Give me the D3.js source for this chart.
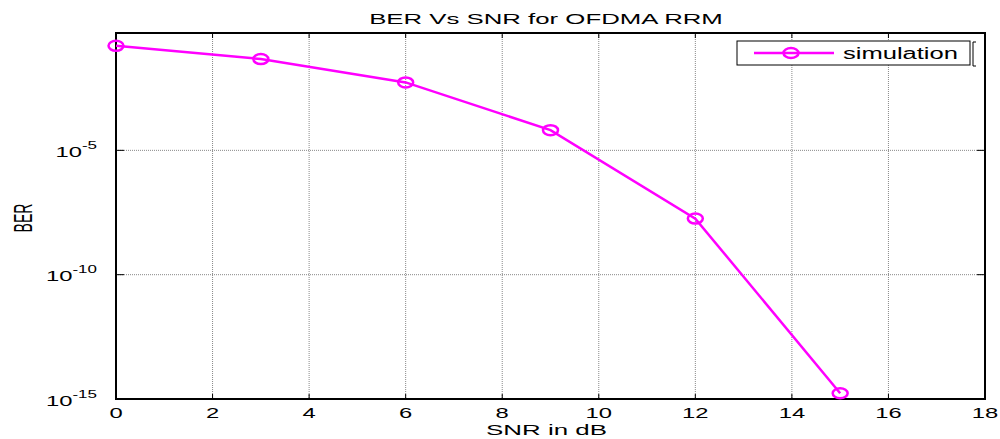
<!DOCTYPE html>
<html><head><meta charset="utf-8">
<script src="https://cdn.jsdelivr.net/npm/d3@7"></script>
<style>body{margin:0;background:#fff}svg{display:block}text{font-family:"Liberation Sans",Arial,sans-serif;fill:#000}</style>
</head><body><svg id="c" width="1000" height="439"></svg>
<script>
const snr = [0, 3, 6, 9, 12, 15];
const ber = [0.16, 0.047, 0.0054, 6.5e-5, 1.8e-8, 1.7e-15];
const xTicks = [0, 2, 4, 6, 8, 10, 12, 14, 16, 18];
const yTicks = [1e-5, 1e-10, 1e-15];
const yTickExp = ["-5", "-10", "-15"];
const seriesName = "simulation";
const titleText = "BER Vs SNR for OFDMA RRM";

const svg = d3.select("#c");
const L = 116, R = 985, T = 33, B = 399;
const x = d3.scaleLinear().domain([0, 18]).range([L, R]);
const y = d3.scaleLog().domain([1e-15, Math.pow(10, -0.28)]).range([B, T]);

// stretched text helper
function stext(px, py, sx, size, anchor, str) {
  const gg = svg.append("g").attr("transform", `translate(${px},${py}) scale(${sx},1)`);
  return gg.append("text").attr("text-anchor", anchor).attr("font-size", size).text(str);
}
// text fitted to a target width
function ftext(px, py, w, size, anchor, str) {
  const gg = svg.append("g");
  const t = gg.append("text").attr("text-anchor", anchor).attr("font-size", size).text(str);
  const sx = w / t.node().getComputedTextLength();
  gg.attr("transform", `translate(${px},${py}) scale(${sx},1)`);
  return t;
}

// grid
const g = svg.append("g");
g.selectAll("line.gx").data(xTicks.slice(1, -1)).join("line")
  .attr("x1", d => x(d)).attr("x2", d => x(d)).attr("y1", T).attr("y2", B)
  .attr("stroke", "#888").attr("stroke-width", 1).attr("stroke-dasharray", "1,1");
g.selectAll("line.gy").data(yTicks.slice(0, 2)).join("line")
  .attr("x1", L).attr("x2", R).attr("y1", d => y(d)).attr("y2", d => y(d))
  .attr("stroke", "#888").attr("stroke-width", 1).attr("stroke-dasharray", "1,1");

// ticks inward
const tk = svg.append("g").attr("stroke", "#000").attr("stroke-width", 1);
xTicks.forEach(d => {
  tk.append("line").attr("x1", x(d)).attr("x2", x(d)).attr("y1", B).attr("y2", B - 5);
  tk.append("line").attr("x1", x(d)).attr("x2", x(d)).attr("y1", T).attr("y2", T + 5);
});
yTicks.forEach(d => {
  tk.append("line").attr("x1", L).attr("x2", L + 8).attr("y1", y(d)).attr("y2", y(d));
  tk.append("line").attr("x1", R).attr("x2", R - 8).attr("y1", y(d)).attr("y2", y(d));
});

// axes box
svg.append("rect").attr("x", L).attr("y", T).attr("width", R - L).attr("height", B - T)
  .attr("fill", "none").attr("stroke", "#000").attr("stroke-width", 2);

// x tick labels
xTicks.forEach(d => stext(x(d), 418, 1.7, 14, "middle", d));

// y tick labels
yTicks.forEach((d, i) => {
  const t = stext(97, y(d) + 6.5, 1.7, 14, "end", "");
  t.append("tspan").text("10");
  t.append("tspan").attr("dy", -8).attr("font-size", 10).text(yTickExp[i]);
});

// line + markers
const line = d3.line().x((d, i) => x(snr[i])).y(d => y(d));
svg.append("path").datum(ber).attr("d", line).attr("fill", "none")
  .attr("stroke", "#ff00ff").attr("stroke-width", 2.5);
svg.append("g").selectAll("ellipse").data(ber).join("ellipse")
  .attr("cx", (d, i) => x(snr[i])).attr("cy", d => y(d)).attr("rx", 7.5).attr("ry", 5)
  .attr("fill", "none").attr("stroke", "#ff00ff").attr("stroke-width", 2.5);

// title & labels
ftext(546, 24, 354, 15, "middle", titleText);
ftext(546.5, 435, 121, 14, "middle", "SNR in dB");
svg.append("g").attr("transform", "translate(32,218) scale(1.8,1) rotate(-90)")
  .append("text").attr("text-anchor", "middle").attr("font-size", 14).text("BER");

// legend
const lg = svg.append("g");
lg.append("rect").attr("x", 737).attr("y", 41).attr("width", 233).attr("height", 24)
  .attr("fill", "#fff").attr("stroke", "#000").attr("stroke-width", 1);
lg.append("path").attr("d", "M976,42 L973,42 L973,66 L976,66").attr("fill", "none").attr("stroke", "#000").attr("stroke-width", 1);
lg.append("line").attr("x1", 754).attr("x2", 834).attr("y1", 53).attr("y2", 53).attr("stroke", "#ff00ff").attr("stroke-width", 2.5);
lg.append("ellipse").attr("cx", 791).attr("cy", 53).attr("rx", 7.5).attr("ry", 5).attr("fill", "none").attr("stroke", "#ff00ff").attr("stroke-width", 2.5);
ftext(843, 59, 115, 16, "start", seriesName);
</script></body></html>
